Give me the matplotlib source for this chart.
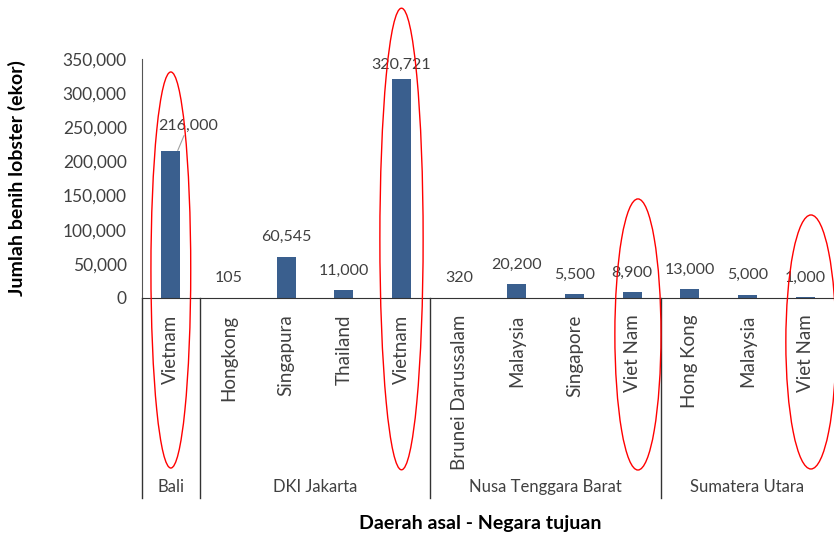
import matplotlib
matplotlib.use("Agg")
import matplotlib.pyplot as plt
import matplotlib.transforms as mtransforms
from matplotlib.patches import Ellipse

plt.rcParams["font.family"] = ["Lato", "DejaVu Sans"]

categories = ["Vietnam", "Hongkong", "Singapura", "Thailand", "Vietnam",
              "Brunei Darussalam", "Malaysia", "Singapore", "Viet Nam",
              "Hong Kong", "Malaysia", "Viet Nam"]
values = [216000, 105, 60545, 11000, 320721,
          320, 20200, 5500, 8900,
          13000, 5000, 1000]
groups = ["Bali", "DKI Jakarta", "Nusa Tenggara Barat", "Sumatera Utara"]
group_sizes = [1, 4, 4, 3]
y_ticks = [0, 50000, 100000, 150000, 200000, 250000, 300000, 350000]

TEXT = "#404040"
BAR = "#3A5F8E"

fig = plt.figure(figsize=(8.34, 5.38), dpi=100)
ax = fig.add_axes([142 / 834, 240 / 538, 692 / 834, 239 / 538])

x = list(range(len(categories)))
ax.bar(x, values, width=0.33, color=BAR, zorder=2)
ax.set_xlim(-0.5, len(categories) - 0.5)
ax.set_ylim(0, 350000)
ax.set_yticks(y_ticks)
ax.set_yticklabels([f"{v:,}" for v in y_ticks], color=TEXT, fontsize=12.5)
ax.set_xticks(x)
ax.set_xticklabels(categories, rotation=90, ha="center", va="top",
                   color=TEXT, fontsize=13.5)
ax.tick_params(axis="y", length=0, pad=11)
ax.tick_params(axis="x", length=0, pad=12)
for side in ["top", "right"]:
    ax.spines[side].set_visible(False)
ax.spines["left"].set_color("#555555")
ax.spines["bottom"].set_color("#333333")

# data labels
for i, v in enumerate(values):
    if i == 0:
        continue
    offset = 5 if v > 300000 else 9
    ax.annotate(f"{v:,}", (i, v), xytext=(0, offset), textcoords="offset points",
                ha="center", va="bottom", color=TEXT, fontsize=11.5)
# moved label with leader line
ax.annotate(f"{values[0]:,}", (0.12, values[0]), xytext=(0.3, values[0] + 26000),
            ha="center", va="bottom", color=TEXT, fontsize=11.5,
            arrowprops=dict(arrowstyle="-", color="#a0a0a0", lw=0.8,
                            shrinkA=0, shrinkB=0))

# group separators and labels
trans = mtransforms.blended_transform_factory(ax.transData, ax.transAxes)
start = -0.5
bounds = [start]
for g, n in zip(groups, group_sizes):
    end = start + n
    ax.text((start + end) / 2, -0.79, g, transform=trans, ha="center",
            va="center", color=TEXT, fontsize=12)
    bounds.append(end)
    start = end
for b in bounds[:-1]:
    ax.plot([b, b], [0, -0.837], transform=trans, color="#333333", lw=1.0,
            clip_on=False)

# red highlight ellipses
ellipses = [(0.0, 41000, 0.69, 580000),
            (4.0, 86400, 0.75, 676000),
            (8.1, -53400, 0.80, 397000),
            (11.1, -64400, 0.87, 372000)]
for cx, cy, w, h in ellipses:
    ax.add_patch(Ellipse((cx, cy), w, h, fill=False, edgecolor="red",
                         lw=1.0, clip_on=False, zorder=5))

ax.set_ylabel("Jumlah benih lobster (ekor)", fontsize=14, fontweight="bold",
              color="black")
ax.yaxis.set_label_coords(-0.168, 0.5)
fig.text(480 / 834, 1 - 523 / 538, "Daerah asal - Negara tujuan",
         ha="center", va="center", fontsize=14, fontweight="bold")

fig.savefig("out.png", dpi=100)
